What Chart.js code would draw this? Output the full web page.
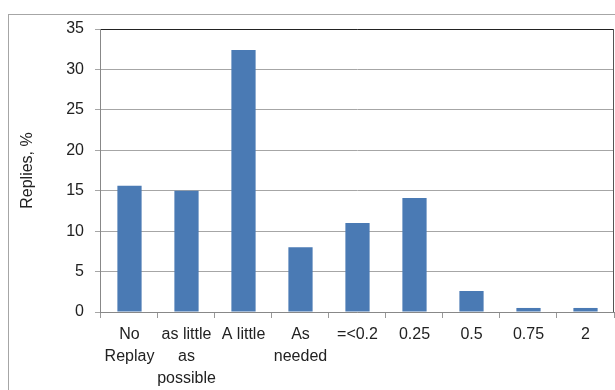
<!DOCTYPE html>
<html>
<head>
<meta charset="utf-8">
<script src="https://cdn.jsdelivr.net/npm/chart.js@4/dist/chart.umd.min.js"></script>
<style>
  html, body { margin: 0; padding: 0; background: #fff; }
  #wrap { width: 615px; height: 390px; position: relative; }
</style>
</head>
<body>
<div id="wrap"><canvas id="c" width="615" height="390"></canvas></div>
<script>
// Categories (multi-line labels) and reply shares in percent
const categories = [
  ['No', 'Replay'],
  ['as little', 'as', 'possible'],
  'A little',
  ['As', 'needed'],
  '=<0.2',
  '0.25',
  '0.5',
  '0.75',
  '2'
];
const replies = [15.6, 15.0, 32.4, 8.0, 11.0, 14.1, 2.6, 0.5, 0.5];
const yTicks = [0, 5, 10, 15, 20, 25, 30, 35];

const FONT = 'Liberation Sans, Arial, sans-serif';

// Outer frame plus the dark top/right edges of the plot area
const framePlugin = {
  id: 'frame',
  beforeDraw(chart) {
    const ctx = chart.ctx;
    ctx.save();
    ctx.fillStyle = '#fff';
    ctx.fillRect(0, 0, chart.width, chart.height);
    ctx.strokeStyle = '#a6a6a6';
    ctx.lineWidth = 1;
    ctx.strokeRect(8.5, 14.5, 700, 500);
    ctx.restore();
  },
  afterDraw(chart) {
    const { ctx, chartArea: a } = chart;
    ctx.save();
    ctx.strokeStyle = '#222';
    ctx.lineWidth = 1;
    ctx.beginPath();
    ctx.moveTo(a.left, Math.round(a.top) + 0.5);
    ctx.lineTo(a.right, Math.round(a.top) + 0.5);
    ctx.stroke();
    ctx.strokeStyle = '#555';
    ctx.beginPath();
    ctx.moveTo(Math.round(a.right) - 0.5, a.top);
    ctx.lineTo(Math.round(a.right) - 0.5, a.bottom);
    ctx.stroke();
    ctx.restore();
  }
};

new Chart(document.getElementById('c'), {
  type: 'bar',
  data: {
    labels: categories,
    datasets: [{
      data: replies,
      backgroundColor: '#4a7ab4',
      borderWidth: 0,
      barPercentage: 0.425,
      categoryPercentage: 1.0
    }]
  },
  options: {
    responsive: false,
    animation: false,
    devicePixelRatio: 1,
    layout: { padding: { top: 29, right: 1, left: 10, bottom: -6 } },
    plugins: {
      legend: { display: false },
      tooltip: { enabled: false }
    },
    scales: {
      x: {
        offset: true,
        grid: {
          offset: true,
          drawOnChartArea: false,
          drawTicks: true,
          tickLength: 6,
          color: '#999'
        },
        border: { color: '#888' },
        ticks: {
          color: '#222',
          font: { family: FONT, size: 16, lineHeight: 1.375 },
          maxRotation: 0,
          autoSkip: false,
          padding: 6
        }
      },
      y: {
        min: 0,
        max: 35,
        afterBuildTicks(scale) {
          scale.ticks = yTicks.map(v => ({ value: v }));
        },
        grid: {
          color: '#a6a6a6',
          drawTicks: true,
          tickLength: 6
        },
        border: { color: '#888' },
        ticks: {
          color: '#222',
          font: { family: FONT, size: 16 },
          padding: 11
        },
        title: {
          display: true,
          text: 'Replies, %',
          color: '#222',
          font: { family: FONT, size: 16 },
          padding: { top: 8, bottom: 18 }
        }
      }
    }
  },
  plugins: [framePlugin]
});
</script>
</body>
</html>
